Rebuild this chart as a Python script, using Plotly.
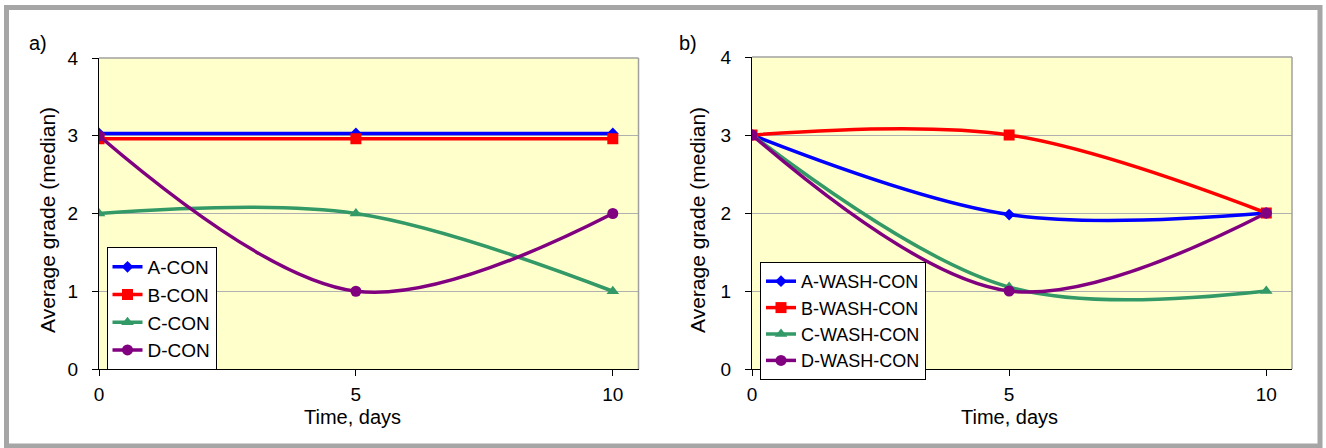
import plotly.graph_objects as go

days = [0, 5, 10]

# Panel a) control groups
a_names = ["A-CON", "B-CON", "C-CON", "D-CON"]
a_con = [3.03, 3.03, 3.03]
b_con = [2.96, 2.96, 2.96]
c_con = [2.0, 2.0, 1.0]
d_con = [3.0, 1.0, 2.0]

# Panel b) wash groups
b_names = ["A-WASH-CON", "B-WASH-CON", "C-WASH-CON", "D-WASH-CON"]
a_wash = [3.0, 1.98, 2.0]
b_wash = [3.0, 3.0, 2.0]
c_wash = [3.0, 1.05, 1.0]
d_wash = [3.0, 1.0, 2.0]

y_ticks = [0, 1, 2, 3, 4]
x_ticks = [0, 5, 10]

colors = ["#0000FF", "#FF0000", "#339966", "#800080"]
symbols = ["diamond", "square", "triangle-up", "circle"]
msizes = [9, 11, 11, 11]

FONT = "Liberation Sans, Arial, sans-serif"
W, H = 1326, 448

fig = go.Figure()

for i, (name, vals) in enumerate(zip(a_names, [a_con, b_con, c_con, d_con])):
    fig.add_trace(go.Scatter(
        x=days, y=vals, name=name, mode="lines+markers",
        line=dict(color=colors[i], width=3.5, shape="spline", smoothing=1),
        marker=dict(symbol=symbols[i], size=msizes[i], color=colors[i]),
        xaxis="x", yaxis="y", legend="legend"))

for i, (name, vals) in enumerate(zip(b_names, [a_wash, b_wash, c_wash, d_wash])):
    fig.add_trace(go.Scatter(
        x=days, y=vals, name=name, mode="lines+markers",
        line=dict(color=colors[i], width=3.5, shape="spline", smoothing=1),
        marker=dict(symbol=symbols[i], size=msizes[i], color=colors[i]),
        xaxis="x2", yaxis="y2", legend="legend2"))

def px(x):
    return x / W

def py(y):
    return 1 - y / H

ydom = [py(369), py(58)]
ydom2 = [py(369), py(57)]

xaxis_common = dict(
    range=[0, 10.5], tickvals=x_ticks, ticks="outside", ticklen=6,
    tickcolor="#000000", showline=True, linecolor="#000000", linewidth=1,
    showgrid=False, zeroline=False, tickfont=dict(family=FONT, size=19, color="#000000"),
    ticklabelstandoff=2, fixedrange=True, automargin=False)
yaxis_common = dict(
    range=[0, 4], tickvals=y_ticks, ticks="outside", ticklen=6,
    tickcolor="#000000", showline=True, linecolor="#000000", linewidth=1,
    showgrid=True, gridcolor="#B0B0B0", gridwidth=1, zeroline=False,
    tickfont=dict(family=FONT, size=19, color="#000000"),
    ticklabelstandoff=10, fixedrange=True, automargin=False)

legend_common = dict(
    bgcolor="#FFFFFF", bordercolor="#000000", borderwidth=1,
    xanchor="left", yanchor="top", traceorder="normal", itemwidth=30)

fig.update_layout(
    template="none",
    width=W, height=H,
    margin=dict(l=0, r=0, t=0, b=0, pad=0, autoexpand=False),
    paper_bgcolor="#FFFFFF",
    plot_bgcolor="#FFFFCC",
    showlegend=True,
    xaxis=dict(domain=[px(99), px(638.5)], anchor="y", **xaxis_common),
    yaxis=dict(domain=ydom, anchor="x", **yaxis_common),
    xaxis2=dict(domain=[px(752), px(1292)], anchor="y2", **xaxis_common),
    yaxis2=dict(domain=ydom2, anchor="x2", **yaxis_common),
    legend=dict(x=px(106.5), y=py(247), font=dict(family=FONT, size=19, color="#000000"),
                entrywidth=122, entrywidthmode="pixels", **legend_common),
    legend2=dict(x=px(760), y=py(262), font=dict(family=FONT, size=18, color="#000000"),
                 entrywidth=160, entrywidthmode="pixels", **legend_common),
    font=dict(family=FONT),
)

annotations = [
    dict(text="a)", x=px(38), y=py(43), showarrow=False, font=dict(family=FONT, size=20, color="#000000")),
    dict(text="b)", x=px(688), y=py(43), showarrow=False, font=dict(family=FONT, size=20, color="#000000")),
    dict(text="Time, days", x=px(352), y=py(417), showarrow=False, font=dict(family=FONT, size=20, color="#000000")),
    dict(text="Time, days", x=px(1009), y=py(417), showarrow=False, font=dict(family=FONT, size=20, color="#000000")),
    dict(text="Average grade (median)", x=px(47), y=py(220), textangle=-90, showarrow=False,
         font=dict(family=FONT, size=21, color="#000000")),
    dict(text="Average grade (median)", x=px(697), y=py(220), textangle=-90, showarrow=False,
         font=dict(family=FONT, size=21, color="#000000")),
]
for a in annotations:
    a.update(xref="paper", yref="paper", xanchor="center", yanchor="middle")
fig.update_layout(annotations=annotations)

shapes = []
# gray top/right borders of each plot area
for xr, yr in [("x domain", "y domain"), ("x2 domain", "y2 domain")]:
    shapes.append(dict(type="line", xref=xr, yref=yr, x0=0, x1=1, y0=1, y1=1,
                       line=dict(color="#A0A0A0", width=1.5)))
    shapes.append(dict(type="line", xref=xr, yref=yr, x0=1, x1=1, y0=0, y1=1,
                       line=dict(color="#A0A0A0", width=1.5)))
# outer gray frame
shapes.append(dict(type="rect", xref="paper", yref="paper",
                   x0=px(6.5), x1=px(1320), y0=py(446), y1=py(7.5),
                   line=dict(color="#A6A6A6", width=5)))
fig.update_layout(shapes=shapes)

fig.write_html("out.html", config={"displayModeBar": False},
               post_script="document.body.style.margin='0';")
